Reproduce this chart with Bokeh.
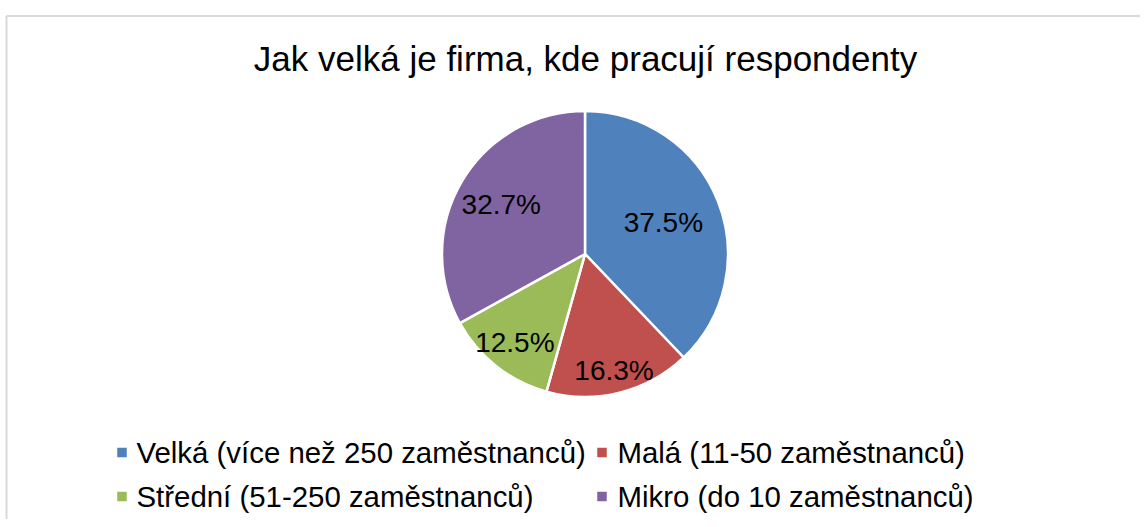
import numpy as np
from bokeh.plotting import figure
from bokeh.models import Range1d
from bokeh.core.properties import value
from bokeh.embed import file_html
from bokeh.resources import INLINE

# ---- data ----
title_text = "Jak velká je firma, kde pracují respondenty"
categories = [
    "Velká (více než 250 zaměstnanců)",
    "Malá (11-50 zaměstnanců)",
    "Střední (51-250 zaměstnanců)",
    "Mikro (do 10 zaměstnanců)",
]
shares = [37.5, 16.3, 12.5, 32.7]
colors = ["#4F81BD", "#C0504D", "#9BBB59", "#8064A2"]

# ---- layout (pixel coordinates, y measured from the top) ----
W, H = 1140, 519
FONT = "Liberation Sans"


def px(x):
    return x


def py(y):
    return H - y


p = figure(width=W, height=H, x_range=Range1d(0, W), y_range=Range1d(0, H),
           output_backend="svg", toolbar_location=None,
           x_axis_location=None, y_axis_location=None,
           min_border=0, min_border_left=0, min_border_right=0,
           min_border_top=0, min_border_bottom=0)
p.grid.visible = False
p.outline_line_color = None
p.background_fill_color = "white"
p.border_fill_color = "white"

# chart frame
p.line(x=[px(6), px(1200)], y=[py(15.5), py(15.5)], line_color="#D9D9D9", line_width=2)
p.line(x=[px(6), px(6)], y=[py(15.5), py(600)], line_color="#D9D9D9", line_width=2)

# title (y = vertical middle of the text)
p.text(x=[px(585)], y=[py(58)], text=[title_text], text_align="center",
       text_baseline="middle", text_font=value(FONT),
       text_font_size="35px", text_color="#000000")

# pie
cx, cy, R = px(584.5), py(253.5), 143
vals = np.array(shares, dtype=float)
frac = vals / vals.sum()
cum = np.concatenate([[0.0], np.cumsum(frac)])
start = np.pi / 2 - 2 * np.pi * cum[:-1]
end = np.pi / 2 - 2 * np.pi * cum[1:]
p.wedge(x=[cx] * len(vals), y=[cy] * len(vals), radius=R,
        start_angle=list(start), end_angle=list(end), direction="clock",
        fill_color=colors, line_color="white", line_width=2.5)

# data labels
label_rfrac = [0.59, 0.84, 0.79, 0.68]
mid = np.pi / 2 - 2 * np.pi * (cum[:-1] + frac / 2)
lx = cx + R * np.array(label_rfrac) * np.cos(mid)
ly = cy + R * np.array(label_rfrac) * np.sin(mid)
p.text(x=list(lx), y=list(ly), text=[f"{v:.1f}%" for v in shares],
       text_align="center", text_baseline="middle", text_font=value(FONT),
       text_font_size="28px", text_color="#000000")

# legend (2 columns x 2 rows)
sq_x = [121.5, 601.5]
txt_x = [136, 617]
mid_y = [452, 496]
for i, (cat, col) in enumerate(zip(categories, colors)):
    c, r = i % 2, i // 2
    p.rect(x=[px(sq_x[c])], y=[py(mid_y[r])], width=9.5, height=9.5,
           fill_color=col, line_color=None)
    p.text(x=[px(txt_x[c])], y=[py(mid_y[r])], text=[cat], text_align="left",
           text_baseline="middle", text_font=value(FONT),
           text_font_size="29.4px", text_color="#000000")

open("out.html", "w").write(file_html(p, INLINE))
